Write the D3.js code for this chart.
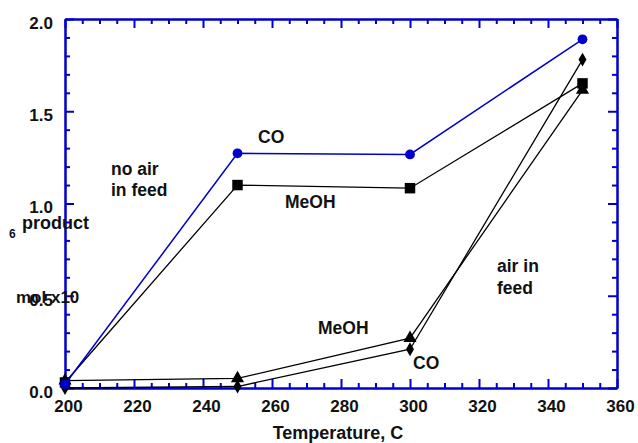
<!DOCTYPE html>
<html>
<head>
<meta charset="utf-8">
<script src="https://cdn.jsdelivr.net/npm/d3@7"></script>
<style>
  html, body { margin: 0; padding: 0; background: #fff; }
  svg text { font-family: "Liberation Sans", Arial, sans-serif; font-weight: bold; fill: #111; }
</style>
</head>
<body>
<svg id="chart"></svg>
<script>
// data
const temps = [200, 250, 300, 350];
const coNoAir = [0.02, 1.272, 1.266, 1.89];     // blue circles
const meohNoAir = [0.03, 1.10, 1.083, 1.651];   // squares
const meohAir = [0.04, 0.052, 0.27, 1.615];     // triangles
const coAir = [0.0, 0.008, 0.21, 1.78];         // diamonds

const xMajor = [200, 220, 240, 260, 280, 300, 320, 340, 360];
const yMajor = [0.0, 0.5, 1.0, 1.5, 2.0];

/* constants */
const W = 638, H = 443;
const LEFT = 65, RIGHT = 617, TOP = 19, BOTTOM = 388;
const AXIS_COLOR = '#0000cc';

const svg = d3.select('#chart').attr('width', W).attr('height', H);

const x = d3.scaleLinear().domain([200, 360]).range([LEFT, RIGHT]);
const y = d3.scaleLinear().domain([0, 2]).range([BOTTOM, TOP]);

const xMinor = d3.range(200, 361, 5).filter(v => v % 20 !== 0);
const yMinor = d3.range(0, 21, 1).map(v => v / 10).filter((v, i) => i % 5 !== 0);

// axes: ticks point inward on all four sides
function styleAxis(g) {
    g.selectAll('path, line').attr('stroke', AXIS_COLOR).attr('stroke-width', 2);
    g.selectAll('text').attr('font-size', '17px').attr('fill', '#111');
}

// bottom
svg.append('g').attr('transform', `translate(0,${BOTTOM})`)
    .call(d3.axisBottom(x).tickValues(xMajor).tickSize(-9).tickSizeOuter(0).tickPadding(12).tickFormat(d3.format('d')))
    .call(styleAxis)
    .call(g => g.selectAll('text').attr('dx', 3));
svg.append('g').attr('transform', `translate(0,${BOTTOM})`)
    .call(d3.axisBottom(x).tickValues(xMinor).tickSize(-5).tickSizeOuter(0).tickFormat(''))
    .call(styleAxis);

// top
svg.append('g').attr('transform', `translate(0,${TOP})`)
    .call(d3.axisTop(x).tickValues(xMajor).tickSize(-9).tickSizeOuter(0).tickFormat(''))
    .call(styleAxis);
svg.append('g').attr('transform', `translate(0,${TOP})`)
    .call(d3.axisTop(x).tickValues(xMinor).tickSize(-5).tickSizeOuter(0).tickFormat(''))
    .call(styleAxis);

// left
svg.append('g').attr('transform', `translate(${LEFT},0)`)
    .call(d3.axisLeft(y).tickValues(yMajor).tickSize(-9).tickSizeOuter(0).tickPadding(12).tickFormat(d3.format('.1f')))
    .call(styleAxis)
    .call(g => g.selectAll('text').attr('dy', '0.55em'));
svg.append('g').attr('transform', `translate(${LEFT},0)`)
    .call(d3.axisLeft(y).tickValues(yMinor).tickSize(-5).tickSizeOuter(0).tickFormat(''))
    .call(styleAxis);

// right
svg.append('g').attr('transform', `translate(${RIGHT},0)`)
    .call(d3.axisRight(y).tickValues(yMajor).tickSize(-9).tickSizeOuter(0).tickFormat(''))
    .call(styleAxis);
svg.append('g').attr('transform', `translate(${RIGHT},0)`)
    .call(d3.axisRight(y).tickValues(yMinor).tickSize(-5).tickSizeOuter(0).tickFormat(''))
    .call(styleAxis);

// series
const series = [
    { vals: meohAir, color: '#000', width: 1.3, symbol: d3.symbolTriangle, size: 75 },
    { vals: coAir, color: '#000', width: 1.3, symbol: d3.symbolDiamond, size: 55 },
    { vals: meohNoAir, color: '#000', width: 1.3, symbol: d3.symbolSquare, size: 110 },
    { vals: coNoAir, color: '#0000cc', width: 1.5, symbol: d3.symbolCircle, size: 75 }
];

const line = d3.line().x((d, i) => x(temps[i])).y(d => y(d));

series.forEach(s => {
    svg.append('path').datum(s.vals)
        .attr('fill', 'none').attr('stroke', s.color).attr('stroke-width', s.width)
        .attr('d', line);
    svg.selectAll(null).data(s.vals).enter().append('path')
        .attr('transform', (d, i) => `translate(${x(temps[i])},${y(d)})`)
        .attr('d', d3.symbol().type(s.symbol).size(s.size))
        .attr('fill', s.color);
});

// annotations
const notes = [
    { t: 'CO', x: 258, y: 143 },
    { t: 'MeOH', x: 285, y: 208 },
    { t: 'no air', x: 111, y: 175 },
    { t: 'in feed', x: 111, y: 196 },
    { t: 'air in', x: 497, y: 272 },
    { t: 'feed', x: 497, y: 294 },
    { t: 'MeOH', x: 318, y: 334 },
    { t: 'CO', x: 413, y: 369 }
];
svg.selectAll('text.note').data(notes).enter().append('text')
    .attr('class', 'note')
    .attr('x', d => d.x).attr('y', d => d.y)
    .attr('font-size', '17.5px')
    .text(d => d.t);

// axis titles
svg.append('text')
    .attr('x', 338).attr('y', 439)
    .attr('text-anchor', 'middle').attr('font-size', '18px')
    .text('Temperature, C');

// y title (broken layout as in the original)
svg.append('text').attr('x', 22).attr('y', 229).attr('font-size', '18px').text('product');
svg.append('text').attr('x', 9).attr('y', 238).attr('font-size', '12px').text('6');
svg.append('text').attr('x', 16).attr('y', 303).attr('font-size', '17px').text('mol x10');
</script>
</body>
</html>
